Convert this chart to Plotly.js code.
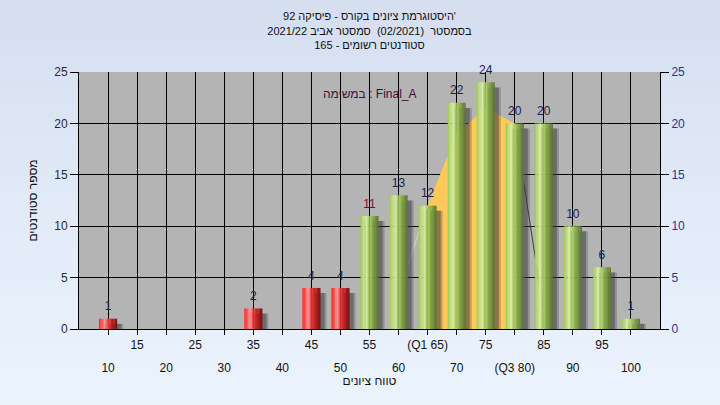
<!DOCTYPE html>
<html><head><meta charset="utf-8">
<script src="https://cdn.plot.ly/plotly-3.0.1.min.js"></script>
<style>
html,body{margin:0;padding:0;width:720px;height:405px;overflow:hidden;}
body{background:linear-gradient(to bottom,#D4DEEF 0%,#E1EAF7 50%,#EBF3FD 100%);}
#chart{width:720px;height:405px;}
</style></head><body><div id="chart"></div>
<script>
// ---- data ----
const categories = [10,15,20,25,30,35,40,45,50,55,60,65,70,75,80,85,90,95,100];
const counts     = [1,0,0,0,0,2,0,4,4,11,13,12,22,24,20,20,10,6,1];
const tickLabels = ['10','15','20','25','30','35','40','45','50','55','60','(Q1 65)','70','75','(Q3 80)','85','90','95','100'];
const passMark = 55;
const curveX = [60,65,70,75,80,85];
const curveY = [3.5,12,19,21.5,20,1.5];
const q1 = 65, q3 = 80;
const yTicks = [0,5,10,15,20,25];
const titleLines = ["היסטוגרמת ציונים בקורס - פיסיקה 92'", "בסמסטר  (02/2021)  סמסטר אביב 2021/22", "סטודנטים רשומים - 165"];
const taskLabel = "במשימה : Final_A";
const xTitle = "טווח ציונים";
const yTitle = "מספר סטודנטים";

// ---- styling helpers ----
function hx(c){return [parseInt(c.slice(1,3),16),parseInt(c.slice(3,5),16),parseInt(c.slice(5,7),16)];}
function grad(stops,t){
  for(let i=0;i<stops.length-1;i++){
    const [t0,c0]=stops[i],[t1,c1]=stops[i+1];
    if(t>=t0&&t<=t1){
      const f=(t-t0)/(t1-t0),a=hx(c0),b=hx(c1);
      return 'rgb('+a.map((v,k)=>Math.round(v+(b[k]-v)*f)).join(',')+')';
    }
  }
  return stops[stops.length-1][1];
}
const greenStops=[[0,'#9cc654'],[0.12,'#b8da74'],[0.3,'#daf0a6'],[0.45,'#b4d66e'],[0.65,'#8eb24c'],[0.85,'#6c8c3a'],[1,'#5a742e']];
const redStops=[[0,'#f01e1e'],[0.15,'#ff4c4c'],[0.32,'#ff9898'],[0.5,'#f43a3a'],[0.75,'#b81818'],[1,'#7c0c0c']];

const barW = 3.1, N = 14, stripW = barW/N;
const traces = [];

// curve fill between quartiles and outer lines (main subplot, under bars)
const fillX = curveX.filter(x=>x>=q1&&x<=q3);
const fillY = curveY.filter((y,i)=>curveX[i]>=q1&&curveX[i]<=q3);
traces.push({type:'scatter',mode:'lines',x:fillX,y:fillY,fill:'tozeroy',fillcolor:'#FFC85A',line:{width:0,color:'#FFC85A'},hoverinfo:'skip'});
traces.push({type:'scatter',mode:'lines',x:curveX.filter(x=>x<=q1),y:curveY.filter((y,i)=>curveX[i]<=q1),line:{width:1,color:'#d4d4d4'},hoverinfo:'skip'});
traces.push({type:'scatter',mode:'lines',x:curveX.filter(x=>x>=q3),y:curveY.filter((y,i)=>curveX[i]>=q3),line:{width:1,color:'#3a3a3a'},hoverinfo:'skip'});

// shadows (overlay subplot)
[[1.05,'rgba(70,70,70,0.30)',0.35],[0.7,'rgba(55,55,55,0.42)',0.2]].forEach(([off,col,b])=>{
  traces.push({type:'bar',x:categories,y:counts.map(v=>v>0?v-0.5+b:null),base:-b,xaxis:'x2',yaxis:'y2',
    width:barW,offset:-barW/2+off,marker:{color:col,line:{width:0}},hoverinfo:'skip'});
});

// cylinder strips
for(let i=0;i<N;i++){
  const t=(i+0.5)/N;
  traces.push({type:'bar',x:categories,y:counts,width:stripW*1.08,offset:-barW/2+i*stripW,xaxis:'x2',yaxis:'y2',
    marker:{color:categories.map(c=>c<passMark?grad(redStops,t):grad(greenStops,t)),line:{width:0}},
    hoverinfo:'skip'});
}

// value labels
traces.push({type:'scatter',mode:'markers+text',x:categories,y:counts,xaxis:'x2',yaxis:'y2',
  text:counts.map(v=>v>0?String(v):''),marker:{size:7,opacity:0},
  textposition:'top center',textfont:{size:12,color:counts.map(v=>v===11?'#7a1030':'#1c2050')},cliponaxis:false,hoverinfo:'skip'});

const lowerVals=[],lowerText=[];
categories.forEach((c,i)=>{ if(i%2===0){lowerVals.push(c);lowerText.push(tickLabels[i]);} });

const layout={
  width:720,height:405,
  paper_bgcolor:'rgba(0,0,0,0)',plot_bgcolor:'#B4B4B4',
  margin:{l:79,r:60,t:72,b:76},
  barmode:'overlay',showlegend:false,
  font:{family:'Liberation Sans, Arial, sans-serif',size:12,color:'#111'},
  title:{text:titleLines.join('<br>'),x:0.5,xanchor:'center',xref:'paper',y:0.95,yanchor:'top',yref:'container',
    font:{size:11,color:'#101010'},pad:{t:0,b:0}},
  xaxis:{range:[5,105],tickmode:'array',tickvals:categories,ticktext:categories.map((c,i)=>i%2===1?tickLabels[i]:''),
    ticks:'outside',ticklen:5,tickcolor:'#000',showgrid:true,gridcolor:'#000',gridwidth:1,
    showline:true,linecolor:'#000',linewidth:1,zeroline:false,tickfont:{size:12,color:'#111'},
    title:{text:xTitle,standoff:25,font:{size:12,color:'#111'}},fixedrange:true},
  xaxis2:{overlaying:'x',anchor:'y',side:'bottom',range:[5,105],tickmode:'array',tickvals:lowerVals,ticktext:lowerText,
    ticks:'',showgrid:false,showline:false,zeroline:false,ticklabelstandoff:30,tickfont:{size:12,color:'#111'},fixedrange:true},
  yaxis:{range:[0,25],tickmode:'array',tickvals:yTicks,ticks:'outside',ticklen:8,tickcolor:'#000',
    showgrid:true,gridcolor:'#000',gridwidth:1,showline:true,linecolor:'#000',zeroline:false,
    tickfont:{size:12,color:'#2a2a2a'},title:{text:yTitle,standoff:14,font:{size:12,color:'#111'}},fixedrange:true},
  yaxis2:{overlaying:'y',side:'right',anchor:'x',range:[0,25],tickmode:'array',tickvals:yTicks,ticks:'outside',ticklen:8,
    tickcolor:'#000',showgrid:false,showline:true,linecolor:'#000',zeroline:false,tickfont:{size:12,color:'#1b3a8c'},fixedrange:true},
  annotations:[{xref:'paper',yref:'paper',x:0.5,y:0.95,text:taskLabel,showarrow:false,font:{size:12,color:'#3a1040'}}]
};
Plotly.newPlot('chart',traces,layout,{displayModeBar:false,staticPlot:true});
</script></body></html>
